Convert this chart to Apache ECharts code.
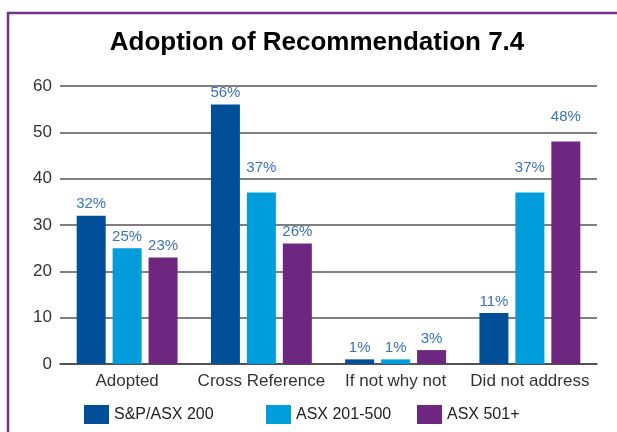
<!DOCTYPE html>
<html>
<head>
<meta charset="utf-8">
<script src="https://cdn.jsdelivr.net/npm/echarts@6/dist/echarts.min.js"></script>
<style>
  html, body { margin: 0; padding: 0; background: #fff; }
  #chart { width: 617px; height: 432px; }
</style>
</head>
<body>
<div id="chart"></div>
<script>
const categories = ['Adopted', 'Cross Reference', 'If not why not', 'Did not address']
const sp200 = [32, 56, 1, 11]
const asx201 = [25, 37, 1, 37]
const asx501 = [23, 26, 3, 48]
const seriesNames = ['S&P/ASX 200', 'ASX 201-500', 'ASX 501+']
const colors = ['#004f98', '#009ddc', '#6e2780']

// labels that sit higher above their bar in the original artwork
const raisedLabels = { 1: [1, 3], 2: [3] }

const chart = echarts.init(document.getElementById('chart'))

const labelStyle = {
  show: true,
  position: 'top',
  distance: 4,
  formatter: '{c}%',
  color: '#3b72bb',
  fontSize: 15,
  fontFamily: 'Liberation Sans'
}

const makeSeries = (idx, data) => ({
  name: seriesNames[idx],
  type: 'bar',
  data: data.map((v, i) => (raisedLabels[idx] || []).includes(i)
    ? { value: v, label: { distance: 17 } }
    : v),
  barWidth: 29,
  barGap: '24%',
  itemStyle: { color: colors[idx] },
  label: labelStyle
})

const legendBase = {
  top: 400,
  itemWidth: 25,
  itemHeight: 19,
  itemGap: 6,
  icon: 'rect',
  textStyle: { fontSize: 16, color: '#222', fontFamily: 'Liberation Sans' }
}

const option = {
  animation: false,
  title: {
    text: 'Adoption of Recommendation 7.4',
    left: 312,
    top: 25,
    textAlign: 'center',
    textStyle: { fontSize: 26, fontWeight: 'bold', color: '#000', fontFamily: 'Liberation Sans' }
  },
  legend: [
    { ...legendBase, left: 79, data: [seriesNames[0]] },
    { ...legendBase, left: 261, data: [seriesNames[1]] },
    { ...legendBase, left: 412, data: [seriesNames[2]] }
  ],
  grid: { left: 60, right: 20, top: 86, bottom: 68 },
  xAxis: {
    type: 'category',
    data: categories,
    axisTick: { show: false },
    axisLine: { lineStyle: { color: '#444', width: 1.5 } },
    axisLabel: { interval: 0, fontSize: 17, color: '#333', margin: 9, fontFamily: 'Liberation Sans' }
  },
  yAxis: {
    type: 'value',
    min: 0,
    max: 60,
    interval: 10,
    axisLine: { show: false },
    axisTick: { show: false },
    axisLabel: { fontSize: 17, color: '#333', margin: 8, fontFamily: 'Liberation Sans' },
    splitLine: { lineStyle: { color: '#555', width: 1.5 } }
  },
  graphic: [
    {
      type: 'polyline',
      shape: { points: [[8, 432], [8, 13], [617, 13]] },
      style: { stroke: '#74318f', lineWidth: 2.5, fill: null }
    }
  ],
  series: [
    makeSeries(0, sp200),
    makeSeries(1, asx201),
    makeSeries(2, asx501)
  ]
}

chart.setOption(option)
</script>
</body>
</html>
